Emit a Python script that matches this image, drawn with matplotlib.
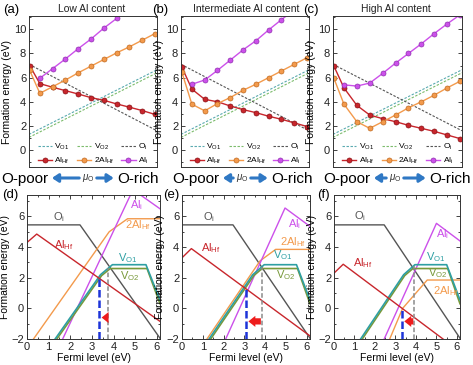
import numpy as np
import matplotlib
matplotlib.use('Agg')
import matplotlib.pyplot as plt
from matplotlib.patches import FancyArrowPatch
from matplotlib.ticker import MultipleLocator

plt.rcParams['font.family'] = ['Liberation Sans', 'DejaVu Sans']
plt.rcParams['mathtext.fontset'] = 'custom'
plt.rcParams['mathtext.rm'] = 'Liberation Sans'
plt.rcParams['mathtext.it'] = 'Liberation Sans:italic'
plt.rcParams['mathtext.bf'] = 'Liberation Sans:bold'

W, H = 473, 365

# ---- top row: formation energy vs oxygen chemical potential ----
titles = ['Low Al content', 'Intermediate Al content', 'High Al content']
top_tags = ['(a)', '(b)', '(c)']
mu_steps = [-0.8, 0, 1, 2, 3, 4, 5, 6, 7, 8, 9]
mu_edges = [-0.85, 9.15]
oi_mu = [7.1, 1.6]
vo1_mu = [1.3, 6.65]
vo2_mu = [1.05, 6.4]

alhf_low = [7.0, 5.5, 5.2, 4.92, 4.64, 4.34, 4.12, 3.82, 3.55, 3.27, 2.95]
alhf2_low = [6.6, 4.7, 5.25, 5.8, 6.4, 6.95, 7.5, 8.05, 8.55, 9.1, 9.65]
ali_low = [np.nan, 5.95, 6.75, 7.55, 8.4, 9.2, 10.1, 10.9, 11.7, 12.5, 13.3]

alhf_mid = [6.9, 5.05, 4.2, 4.0, 3.65, 3.35, 3.1, 2.8, 2.55, 2.25, 1.95]
alhf2_mid = [6.5, 3.8, 3.25, 3.85, 4.35, 4.95, 5.45, 6.0, 6.55, 7.1, 7.65]
ali_mid = [np.nan, 5.45, 5.8, 6.6, 7.45, 8.3, 9.05, 9.95, 10.8, 11.6, 12.4]

alhf_high = [7.0, 5.15, 3.7, 2.9, 2.6, 2.35, 2.05, 1.8, 1.55, 1.25, 0.95]
alhf2_high = [6.0, 3.8, 2.35, 1.8, 2.35, 2.9, 3.5, 4.0, 4.55, 5.15, 5.7]
ali_high = [np.nan, 5.4, 5.3, 5.55, 6.35, 7.2, 8.0, 8.8, 9.65, 10.45, 11.2]

alhf_top = [alhf_low, alhf_mid, alhf_high]
alhf2_top = [alhf2_low, alhf2_mid, alhf2_high]
ali_top = [ali_low, ali_mid, ali_high]

# ---- bottom row: formation energy vs Fermi level ----
bottom_tags = ['(d)', '(e)', '(f)']
fermi_oi = [0, 2.45, 6.15]
e_oi = [5.45, 5.45, -1.95]
fermi_vo1 = [1.3, 3.4, 3.95, 5.5, 6.15]
e_vo1 = [-2, 2.2, 2.85, 2.85, 0.55]
fermi_vo2 = [1.38, 3.45, 3.85, 5.55, 6.15]
e_vo2 = [-2, 2.14, 2.6, 2.6, 0.3]

fermi_alhf = [0, 0.45, 6.15]
e_alhf_d = [4.3, 4.85, -0.85]
e_alhf_e = [3.3, 3.9, -1.8]
e_alhf_f = [2.3, 2.88, -2.83]

fermi_ali_d = [1.65, 4.9, 6.15]
e_ali_d = [-2, 7.75, 6.5]
fermi_ali_e = [2.1, 4.95, 6.15]
e_ali_e = [-2, 6.55, 5.35]
fermi_ali_f = [2.45, 5.0, 6.15]
e_ali_f = [-2, 5.55, 4.4]

fermi_2alhf_d = [0.3, 3.8, 4.65, 6.15]
e_2alhf_d = [-2, 5.0, 5.85, 5.85]
fermi_2alhf_e = [1.2, 3.75, 4.5, 6.15]
e_2alhf_e = [-2, 3.1, 3.85, 3.85]
fermi_2alhf_f = [2.72, 3.35, 4.55, 6.15]
e_2alhf_f = [-2, 0.0, 1.85, 1.85]

ef_blue = [3.35, 3.09, 3.33]
ef_gray = [3.75, 3.82, 3.9]
arrow_y = [-0.6, -0.85, -0.85]

alhf_bot = [(fermi_alhf, e_alhf_d), (fermi_alhf, e_alhf_e), (fermi_alhf, e_alhf_f)]
ali_bot = [(fermi_ali_d, e_ali_d), (fermi_ali_e, e_ali_e), (fermi_ali_f, e_ali_f)]
alhf2_bot = [(fermi_2alhf_d, e_2alhf_d), (fermi_2alhf_e, e_2alhf_e), (fermi_2alhf_f, e_2alhf_f)]

lab_oi = r'O$_{\rm i}$'
lab_vo1 = r'V$_{\rm O1}$'
lab_vo2 = r'V$_{\rm O2}$'
lab_alhf = r'Al$_{\rm Hf}$'
lab_2alhf = r'2Al$_{\rm Hf}$'
lab_ali = r'Al$_{\rm i}$'

# in-plot label positions for (d), (e), (f)
label_pos = [
    {'oi': (1.2, 5.95), 'alhf': (1.25, 4.1), 'ali': (4.75, 6.75), 'alhf2': (4.55, 5.45),
     'vo1': (4.2, 3.3), 'vo2': (4.3, 2.1)},
    {'oi': (1.0, 5.95), 'alhf': (0.93, 3.95), 'ali': (5.1, 5.5), 'alhf2': (4.7, 4.3),
     'vo1': (4.37, 3.45), 'vo2': (4.53, 2.15)},
    {'oi': (1.0, 6.0), 'alhf': (0.93, 2.95), 'ali': (5.0, 4.82), 'alhf2': (4.83, 1.12),
     'vo1': (4.5, 3.33), 'vo2': (4.58, 2.3)},
]

c_red = '#c8262c'
c_orange = '#f39a4c'
c_mag = '#cc50ea'
c_oi = '#555555'
c_vo1 = '#2e9fa3'
c_vo2 = '#78993a'
c_vo1_dash = '#5aaab0'
c_vo2_dash = '#7cbc6c'

top_boxes = [(29, 16, 157, 167), (181, 16, 309, 167), (333, 16, 462, 167)]
bottom_boxes = [(27, 195, 160, 339), (182, 195, 310, 339), (334, 195, 460, 339)]
title_x = [92, 246, 396]
tag_top_x = [3, 152, 303]
tag_bot_x = [2, 163, 317]
opoor_x = [1, 172, 323]
orich_x = [159, 313, 471]
mu_x = [88, 242, 395]


def rect(left, top, right, bottom):
    return [left / W, 1 - bottom / H, (right - left) / W, (bottom - top) / H]


def fpx(x, y):
    return (x / W, 1 - y / H)


def style(ax):
    ax.tick_params(which='both', direction='in', top=True, right=True,
                   labelsize=8, width=0.6, pad=2, colors='#222222')
    ax.tick_params(which='major', length=3)
    ax.tick_params(which='minor', length=1.6)
    for s in ax.spines.values():
        s.set_linewidth(0.7)
        s.set_color('#333333')


fig = plt.figure(figsize=(W / 100, H / 100), dpi=100)

for i, box in enumerate(top_boxes):
    ax = fig.add_axes(rect(*box))
    dash = (0, (2.2, 1.4))
    h1, = ax.plot(mu_edges, vo1_mu, ls=dash, color=c_vo1_dash, lw=0.8, label=lab_vo1)
    h2, = ax.plot(mu_edges, vo2_mu, ls=dash, color=c_vo2_dash, lw=0.8, label=lab_vo2)
    h3, = ax.plot(mu_edges, oi_mu, ls=dash, color=c_oi, lw=0.8, label=lab_oi)
    mk = dict(marker='o', ms=3.6, mew=0.5, lw=1.0)
    h4, = ax.plot(mu_steps, alhf_top[i], color=c_red, mec='#8a1015', label=lab_alhf, **mk)
    h5, = ax.plot(mu_steps, alhf2_top[i], color=c_orange, mec='#c06a20', label=lab_2alhf, **mk)
    h6, = ax.plot(mu_steps, ali_top[i], color=c_mag, mec='#9030b0', label=lab_ali, **mk)
    ax.set_xlim(mu_edges)
    ax.set_ylim(-1.4, 11.1)
    ax.set_xticks([])
    ax.yaxis.set_major_locator(MultipleLocator(2))
    ax.yaxis.set_minor_locator(MultipleLocator(1))
    style(ax)
    ax.tick_params(axis='x', which='both', top=False, bottom=False)
    ax.set_ylabel('Formation energy (eV)', fontsize=7.5, labelpad=1)
    ax.legend([h1, h4, h2, h5, h3, h6],
              [lab_vo1, lab_alhf, lab_vo2, lab_2alhf, lab_oi, lab_ali],
              ncol=3, loc='lower center', bbox_to_anchor=(0.5, -0.02),
              frameon=False, fontsize=6, handlelength=1.7, handletextpad=0.3,
              columnspacing=0.9, labelspacing=0.4, borderaxespad=0.1)
    fig.text(*fpx(title_x[i], 9), titles[i], fontsize=7.5, ha='center', va='center',
             color='#222222')
    fig.text(*fpx(tag_top_x[i], 10), top_tags[i], fontsize=9.5, ha='left', va='center')

for i, box in enumerate(bottom_boxes):
    ax = fig.add_axes(rect(*box))
    ax.plot(fermi_oi, e_oi, color=c_oi, lw=1.0)
    ax.plot(*alhf2_bot[i], color=c_orange, lw=1.0)
    ax.plot(*ali_bot[i], color=c_mag, lw=1.0)
    ax.plot(fermi_vo2, e_vo2, color=c_vo2, lw=1.2)
    ax.plot(fermi_vo1, e_vo1, color=c_vo1, lw=1.2)
    ax.plot(*alhf_bot[i], color=c_red, lw=1.0)

    fx, fy = alhf_bot[i]
    blue_top = np.interp(ef_blue[i], fx, fy)
    gray_top = np.interp(ef_gray[i], fermi_vo1, e_vo1)
    ax.plot([ef_blue[i], ef_blue[i]], [-2, blue_top], ls=(0, (3, 1.2)),
            color='#1d34d8', lw=1.8)
    ax.plot([ef_gray[i], ef_gray[i]], [-2, gray_top], ls=(0, (3, 1.5)),
            color='#8a8a8a', lw=1.1)
    ax.annotate('', xy=(ef_blue[i] + 0.1, arrow_y[i]), xytext=(ef_gray[i] - 0.03, arrow_y[i]),
                arrowprops=dict(arrowstyle='simple,head_width=0.8,head_length=0.5,tail_width=0.45',
                                color='#ee1c1c', lw=0, mutation_scale=10,
                                shrinkA=0, shrinkB=0))

    lp = label_pos[i]
    fs = 8
    ax.text(*lp['oi'], lab_oi, color=c_oi, fontsize=fs, va='center')
    ax.text(*lp['alhf'], lab_alhf, color=c_red, fontsize=fs, va='center')
    ax.text(*lp['ali'], lab_ali, color=c_mag, fontsize=fs, va='center')
    ax.text(*lp['alhf2'], lab_2alhf, color=c_orange, fontsize=fs, va='center')
    ax.text(*lp['vo1'], lab_vo1, color=c_vo1, fontsize=fs, va='center')
    ax.text(*lp['vo2'], lab_vo2, color=c_vo2, fontsize=fs, va='center')

    ax.set_xlim(0, 6.15)
    ax.set_ylim(-2, 7.4)
    ax.xaxis.set_major_locator(MultipleLocator(1))
    ax.xaxis.set_minor_locator(MultipleLocator(0.5))
    ax.yaxis.set_major_locator(MultipleLocator(2))
    ax.yaxis.set_minor_locator(MultipleLocator(1))
    style(ax)
    ax.set_ylabel('Formation energy (eV)', fontsize=7.5, labelpad=1)
    ax.set_xlabel('Fermi level (eV)', fontsize=7.5, labelpad=1)
    fig.text(*fpx(tag_bot_x[i], 195), bottom_tags[i], fontsize=9.5, ha='left', va='center')

# O-poor <- mu_O -> O-rich captions
fig.canvas.draw()
renderer = fig.canvas.get_renderer()
for i in range(3):
    t1 = fig.text(*fpx(opoor_x[i], 179), 'O-poor', fontsize=11, ha='left', va='center')
    t2 = fig.text(*fpx(orich_x[i], 179), 'O-rich', fontsize=11, ha='right', va='center')
    fig.text(*fpx(mu_x[i], 178), r'$\mu_{\rm O}$', fontsize=7, ha='center', va='center',
             color='#333333')
    b1 = t1.get_window_extent(renderer)
    b2 = t2.get_window_extent(renderer)
    ya = 1 - 178 / H
    for xs, xe in [(mu_x[i] - 6, b1.x1 + 1), (mu_x[i] + 6, b2.x0 - 1)]:
        fig.add_artist(FancyArrowPatch((xs / W, ya), (xe / W, ya), transform=fig.transFigure,
                                       arrowstyle='-|>,head_width=0.3,head_length=0.45',
                                       mutation_scale=8, lw=2.2, color='#2f78c4'))

fig.savefig('out.png', dpi=100)
